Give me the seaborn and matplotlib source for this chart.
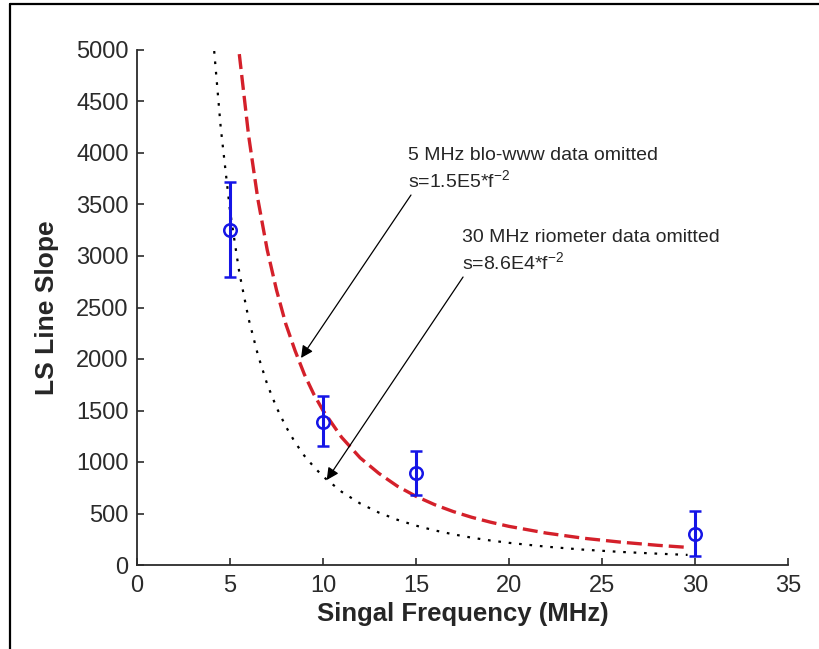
import matplotlib
matplotlib.use("Agg")
import matplotlib.pyplot as plt
import seaborn as sns
from matplotlib.lines import Line2D

# valores
freq_pts = [5, 10, 15, 30]
slope_pts = [3250, 1390, 890, 305]
err_low = [450, 235, 210, 218]
err_high = [470, 250, 215, 219]

# curva ajustada s=1.5E5*f^-2
red_f = [5.5, 6, 6.5, 7, 7.5, 8, 8.5, 9, 9.5, 10, 11, 12, 13, 14, 15, 16,
         17, 18, 19, 20, 22, 24, 26, 28, 29.6]
red_s = [4960, 4170, 3550, 3060, 2670, 2340, 2080, 1850, 1660, 1500, 1240,
         1040, 890, 765, 667, 586, 519, 463, 416, 375, 310, 260, 222, 191, 171]

# curva ajustada s=8.6E4*f^-2
blk_f = [4.15, 4.5, 5, 5.5, 6, 6.5, 7, 7.5, 8, 8.5, 9, 9.5, 10, 11, 12, 13,
         14, 15, 16, 17, 18, 19, 20, 22, 24, 26, 28, 29.6]
blk_s = [4990, 4250, 3440, 2840, 2390, 2040, 1755, 1530, 1345, 1190, 1060,
         955, 860, 711, 597, 509, 439, 382, 336, 298, 265, 238, 215, 178,
         149, 127, 110, 98]

x_ticks = [0, 5, 10, 15, 20, 25, 30, 35]
y_ticks = [0, 500, 1000, 1500, 2000, 2500, 3000, 3500, 4000, 4500, 5000]

sns.set_theme(style="white")
plt.rcParams["font.family"] = ["Liberation Sans", "DejaVu Sans"]
plt.rcParams["mathtext.default"] = "regular"

fig = plt.figure(figsize=(8.19, 6.49), dpi=100, facecolor="white")
ax = fig.add_axes([137 / 819, 1 - 565 / 649, 651 / 819, 515 / 649])

sns.lineplot(x=blk_f, y=blk_s, ax=ax, color="black", lw=1.6,
             linestyle=(0, (1.2, 3.5)), sort=False, errorbar=None)
sns.lineplot(x=red_f, y=red_s, ax=ax, color="#d4202a", lw=2.4,
             linestyle=(0, (4.5, 1.8)), sort=False, errorbar=None)
ax.errorbar(freq_pts, slope_pts, yerr=[err_low, err_high], fmt="o",
            color="#1515e6", mfc="none", mec="#1515e6", ms=9, mew=1.8,
            elinewidth=2.2, capsize=4, capthick=2.2, zorder=5)

# anotacoes com setas
ax.text(14.57, 3932, "5 MHz blo-www data omitted", fontsize=14, va="baseline")
ax.text(14.57, 3670, r"s=1.5E5*f$^{-2}$", fontsize=14, va="baseline")
ax.annotate("", xy=(8.82, 2010), xytext=(14.73, 3592),
            arrowprops=dict(arrowstyle="-|>", color="black", lw=0.9,
                            mutation_scale=18, shrinkA=0, shrinkB=0))
ax.text(17.47, 3136, "30 MHz riometer data omitted", fontsize=14, va="baseline")
ax.text(17.47, 2874, r"s=8.6E4*f$^{-2}$", fontsize=14, va="baseline")
ax.annotate("", xy=(10.2, 825), xytext=(17.53, 2796),
            arrowprops=dict(arrowstyle="-|>", color="black", lw=0.9,
                            mutation_scale=18, shrinkA=0, shrinkB=0))

ax.set_xlim(0, 35)
ax.set_ylim(0, 5000)
ax.set_xticks(x_ticks)
ax.set_yticks(y_ticks)
ax.tick_params(direction="in", length=5, width=1.2, colors="#2b2b2b",
               labelsize=17, bottom=True, left=True)
ax.tick_params(axis="x", pad=7)
ax.tick_params(axis="y", pad=6)
for lado in ["top", "right"]:
    ax.spines[lado].set_visible(False)
for lado in ["left", "bottom"]:
    ax.spines[lado].set_color("#2b2b2b")
    ax.spines[lado].set_linewidth(1.3)

ax.set_xlabel("Singal Frequency (MHz)", fontsize=18.5, fontweight="bold",
              labelpad=4)
ax.set_ylabel("LS Line Slope", fontsize=19, fontweight="bold", labelpad=12)

# moldura preta (so topo e esquerda aparecem)
fig.add_artist(Line2D([10 / 819, 1], [1 - 4.3 / 649, 1 - 4.3 / 649],
                      transform=fig.transFigure, color="black", lw=1.6))
fig.add_artist(Line2D([10 / 819, 10 / 819], [0, 1 - 4.3 / 649],
                      transform=fig.transFigure, color="black", lw=1.6))

fig.savefig("out.png", dpi=100, facecolor="white")
